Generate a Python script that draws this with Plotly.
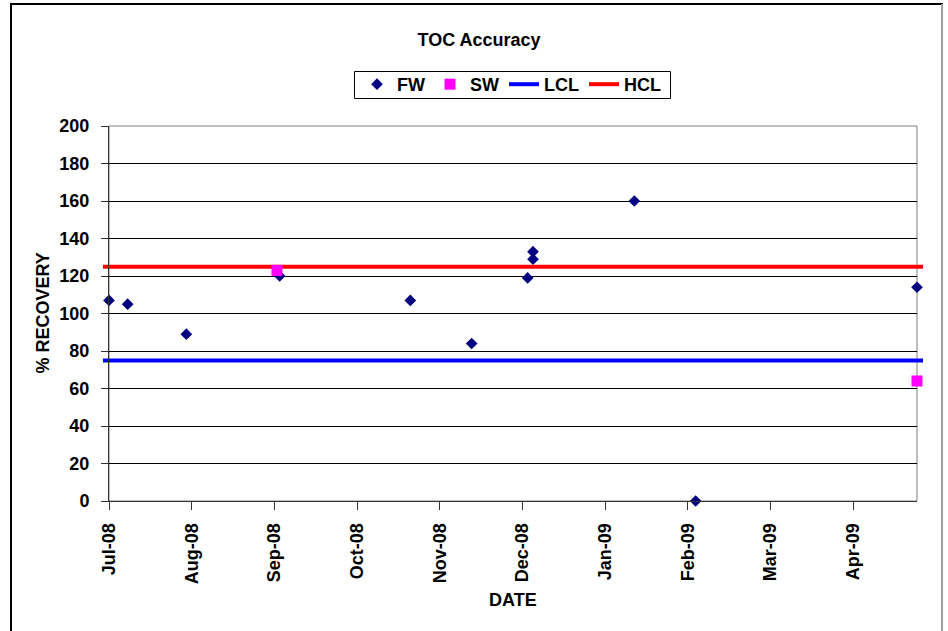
import plotly.graph_objects as go

# TOC accuracy check results (% recovery) by sample date
fw_dates = ["2008-07-01", "2008-07-08", "2008-07-30", "2008-09-03", "2008-10-22",
            "2008-11-14", "2008-12-05", "2008-12-07", "2008-12-07", "2009-01-14",
            "2009-02-06", "2009-04-30"]
fw_values = [107, 105, 89, 120, 107, 84, 119, 133, 129, 160, 0, 114]

sw_dates = ["2008-09-02", "2009-04-30"]
sw_values = [123, 64]

LCL = 75
HCL = 125

x_start = "2008-07-01"
x_end = "2009-04-30"
y_min, y_max, y_step = 0, 200, 20

FONT = "Liberation Sans, Arial, sans-serif"
DAY_MS = 86400000

W, H = 948, 631
ML, MR, MT, MB = 109, 31, 126, 130
PW, PH = W - ML - MR, H - MT - MB


def px_x(px):
    return (px - ML) / PW


def px_y(py):
    return (H - MB - py) / PH


fig = go.Figure()

fig.add_trace(go.Scatter(
    x=fw_dates, y=fw_values, mode="markers", name="FW",
    marker=dict(symbol="diamond", size=9, color="#000080",
                line=dict(width=0)),
    cliponaxis=False,
))
fig.add_trace(go.Scatter(
    x=sw_dates, y=sw_values, mode="markers", name="SW",
    marker=dict(symbol="square", size=11, color="#FF00FF",
                line=dict(width=0)),
    cliponaxis=False,
))
# legend entries for the control limit lines (lines themselves are shapes)
fig.add_trace(go.Scatter(x=[None], y=[None], mode="lines", name="LCL",
                         line=dict(color="#0000FF", width=4)))
fig.add_trace(go.Scatter(x=[None], y=[None], mode="lines", name="HCL",
                         line=dict(color="#FF0000", width=4)))

shapes = []
# plot area border (top / right in gray)
shapes.append(dict(type="rect", xref="paper", yref="paper", x0=0, x1=1, y0=0, y1=1,
                   line=dict(color="#808080", width=1), layer="between"))
# control limits
for val, col in ((LCL, "#0000FF"), (HCL, "#FF0000")):
    shapes.append(dict(type="line", xref="paper", yref="y",
                       x0=px_x(103), x1=px_x(923), y0=val, y1=val,
                       line=dict(color=col, width=4), layer="between"))
# legend frame
shapes.append(dict(type="rect", xref="paper", yref="paper",
                   x0=px_x(354.5), x1=px_x(670.5), y0=px_y(98.5), y1=px_y(71.5),
                   line=dict(color="#000000", width=1), layer="above"))
# chart area frame
shapes.append(dict(type="line", xref="paper", yref="paper",
                   x0=px_x(11), x1=px_x(11), y0=px_y(4), y1=px_y(640),
                   line=dict(color="#000000", width=2), layer="above"))
shapes.append(dict(type="line", xref="paper", yref="paper",
                   x0=px_x(10), x1=px_x(943), y0=px_y(4), y1=px_y(4),
                   line=dict(color="#000000", width=2), layer="above"))
shapes.append(dict(type="line", xref="paper", yref="paper",
                   x0=px_x(942), x1=px_x(942), y0=px_y(4), y1=px_y(640),
                   line=dict(color="#A0A0A0", width=2), layer="above"))

bold = dict(family=FONT, size=18, color="#000000", weight="bold")

fig.update_layout(
    width=W, height=H,
    margin=dict(l=ML, r=MR, t=MT, b=MB),
    paper_bgcolor="#FFFFFF", plot_bgcolor="#FFFFFF",
    font=bold,
    showlegend=True,
    title=dict(text="TOC Accuracy", font=bold, x=px_x(479) * PW / W + ML / W,
               xanchor="center", y=1 - 40 / H, yanchor="middle"),
    legend=dict(orientation="h", x=px_x(512), xanchor="center",
                y=px_y(66), yanchor="top", borderwidth=0,
                bgcolor="rgba(0,0,0,0)", font=bold, itemclick=False),
    xaxis=dict(
        type="date", range=[x_start, x_end],
        tick0=x_start, dtick=31 * DAY_MS, tickformat="%b-%y",
        tickangle=-90, ticks="outside", ticklen=8, tickcolor="#333333",
        showgrid=False, zeroline=False, showline=True, linecolor="#333333",
        linewidth=1, tickfont=bold, ticklabelstandoff=6,
    ),
    yaxis=dict(
        range=[y_min, y_max], dtick=y_step, tick0=0,
        ticks="outside", ticklen=7, tickcolor="#333333",
        showgrid=True, gridcolor="#000000", gridwidth=1,
        zeroline=False, showline=True, linecolor="#333333", linewidth=1,
        tickfont=bold, ticklabelstandoff=8,
    ),
    shapes=shapes,
    annotations=[
        dict(text="% RECOVERY", xref="paper", yref="paper", x=px_x(42), y=0.5,
             textangle=-90, showarrow=False, font=bold,
             xanchor="center", yanchor="middle"),
        dict(text="DATE", xref="paper", yref="paper", x=0.5, y=px_y(600),
             showarrow=False, font=bold, xanchor="center", yanchor="middle"),
    ],
)

fig.write_html("out.html")
